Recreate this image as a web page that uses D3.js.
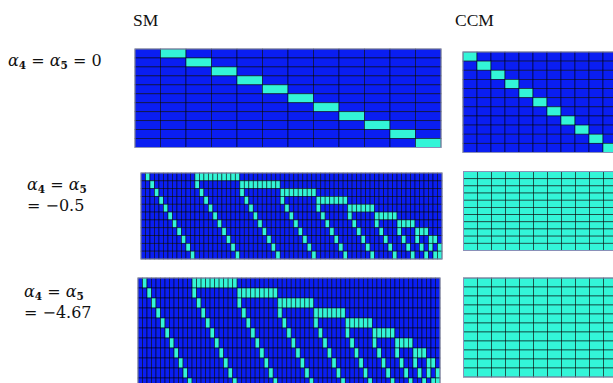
<!DOCTYPE html>
<html>
<head>
<meta charset="utf-8">
<script src="https://cdn.jsdelivr.net/npm/d3@7"></script>
<style>
  html, body { margin: 0; padding: 0; background: #fff; overflow: hidden; }
  svg { display: block; }
</style>
</head>
<body>
<svg id="chart" width="613" height="383"></svg>
<script>
// ---------------- data ----------------
const colTitles = ["SM", "CCM"];
const rowLabels = [
  ["α4 = α5 = 0"],
  ["α4 = α5", "= −0.5"],
  ["α4 = α5", "= −4.67"]
];
const nRows = 11;

// SM, alpha4 = alpha5 = 0 : 12 columns (constant + 11 linear terms); cyan column per row
const smLinearCols = 12;
const smLinearCyan = [1, 2, 3, 4, 5, 6, 7, 8, 9, 10, 11];

// SM, alpha4 = alpha5 != 0 : 67 columns (constant, 11 linear, 55 pair terms)
const smQuadCols = 67;
// per row: single cyan cells and one horizontal run [from, to]
const smQuadSingles = [
  [1],
  [2, 12],
  [3, 13, 22],
  [4, 14, 23, 31],
  [5, 15, 24, 32, 39],
  [6, 16, 25, 33, 40, 46],
  [7, 17, 26, 34, 41, 47, 52],
  [8, 18, 27, 35, 42, 48, 53, 57],
  [9, 19, 28, 36, 43, 49, 54, 58, 61],
  [10, 20, 29, 37, 44, 50, 55, 59, 62, 64],
  [11, 21, 30, 38, 45, 51, 56, 60, 63, 65, 66]
];
const smQuadRuns = [
  [12, 21], [22, 30], [31, 38], [39, 45], [46, 51],
  [52, 56], [57, 60], [61, 63], [64, 65], [66, 66], null
];

// CCM : 11 x 11
const ccmCols = 11;
const ccmTopCyan = [0, 1, 2, 3, 4, 5, 6, 7, 8, 9, 10];   // diagonal only

// ---------------- build matrices ----------------
function emptyMatrix(cols) {
  return d3.range(nRows).map(() => d3.range(cols).map(() => 0));
}
const mSMLinear = emptyMatrix(smLinearCols);
smLinearCyan.forEach((c, r) => { mSMLinear[r][c] = 1; });

const mSMQuad = emptyMatrix(smQuadCols);
smQuadSingles.forEach((cells, r) => cells.forEach(c => { mSMQuad[r][c] = 1; }));
smQuadRuns.forEach((run, r) => {
  if (run) d3.range(run[0], run[1] + 1).forEach(c => { mSMQuad[r][c] = 1; });
});

const mCCMDiag = emptyMatrix(ccmCols);
ccmTopCyan.forEach((c, r) => { mCCMDiag[r][c] = 1; });
const mCCMFull = d3.range(nRows).map(() => d3.range(ccmCols).map(() => 1));

// ---------------- layout ----------------
const panels = [
  { m: mSMLinear, x: 135, y: 49,  w: 306, h: 98.5 },
  { m: mCCMDiag,  x: 463, y: 52,  w: 154, h: 100.5 },
  { m: mSMQuad,   x: 141, y: 173, w: 301, h: 86 },
  { m: mCCMFull,  x: 463.5, y: 171.5, w: 154, h: 79 },
  { m: mSMQuad,   x: 138, y: 278, w: 302, h: 110 },
  { m: mCCMFull,  x: 463.5, y: 278, w: 154, h: 99 }
];

const blue = "#0a1ef2";
const cyan = "#33f5d8";

const svg = d3.select("#chart");

panels.forEach(p => {
  const cols = p.m[0].length;
  const x = d3.scaleBand().domain(d3.range(cols)).range([p.x, p.x + p.w]).padding(0);
  const y = d3.scaleBand().domain(d3.range(nRows)).range([p.y, p.y + p.h]).padding(0);
  const g = svg.append("g");
  const cells = [];
  p.m.forEach((row, r) => row.forEach((v, c) => cells.push({ r, c, v })));
  g.selectAll("rect.cell").data(cells).enter().append("rect")
    .attr("class", "cell")
    .attr("x", d => x(d.c))
    .attr("y", d => y(d.r))
    .attr("width", x.bandwidth())
    .attr("height", y.bandwidth())
    .attr("fill", d => d.v ? cyan : blue)
    .attr("stroke", "#000")
    .attr("stroke-opacity", 0.65)
    .attr("stroke-width", 0.8);
  g.append("rect")
    .attr("x", p.x).attr("y", p.y).attr("width", p.w).attr("height", p.h)
    .attr("fill", "none").attr("stroke", "#8a90b8").attr("stroke-width", 1);
});

// column titles
const titleX = [133, 455];
colTitles.forEach((t, i) => {
  svg.append("text")
    .attr("x", titleX[i]).attr("y", 26)
    .attr("font-family", "Liberation Serif, Times New Roman, serif")
    .attr("font-size", 17.5)
    .attr("fill", "#111")
    .text(t);
});

// row labels with subscripts: one <text> per label, one group of tspans per line
const labelPos = [[8, 66], [27, 190], [24, 297]];
const lineGap = 21;
rowLabels.forEach((lines, i) => {
  const [lx, ly] = labelPos[i];
  const t = svg.append("text")
    .attr("x", lx).attr("y", ly)
    .attr("font-family", "DejaVu Serif, serif")
    .attr("font-size", 16)
    .attr("fill", "#111");
  lines.forEach((ln, j) => {
    const tokens = ln.match(/α\d|[^α]+/g);
    let pending = 0;
    tokens.forEach((tok, k) => {
      const first = k === 0;
      if (tok[0] === "α") {
        const sp = t.append("tspan").attr("font-style", "italic").text("α");
        if (first) sp.attr("x", lx).attr("y", ly + j * lineGap);
        else sp.attr("dy", pending);
        t.append("tspan").attr("font-size", 10.5).attr("font-weight", "bold").attr("dy", 3).text(tok[1]);
        pending = -3;
      } else {
        const sp = t.append("tspan").text(tok);
        if (first) sp.attr("x", lx).attr("y", ly + j * lineGap);
        else sp.attr("dy", pending);
        pending = 0;
      }
    });
  });
});
</script>
</body>
</html>
